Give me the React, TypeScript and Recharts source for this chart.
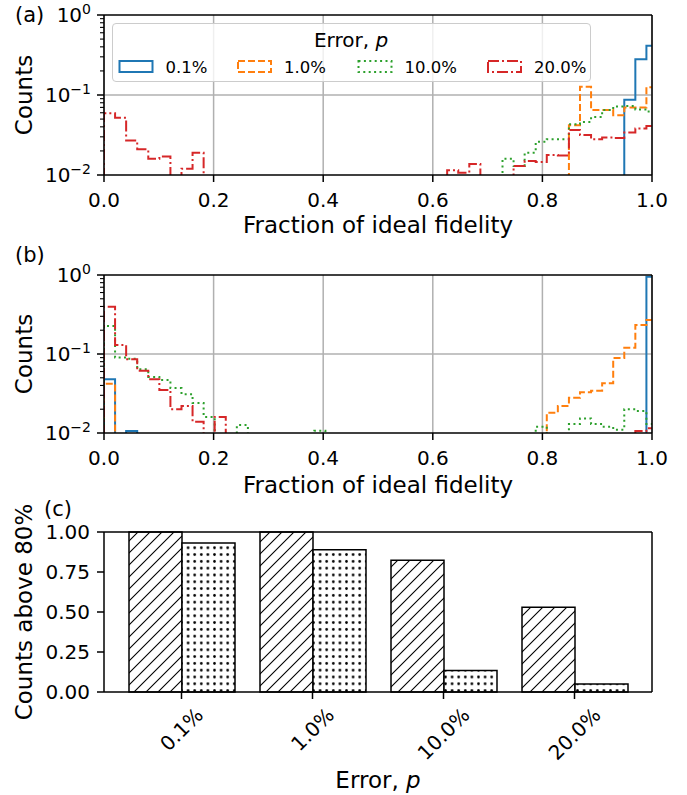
import React from 'react';
import {
  ComposedChart,
  Line,
  Bar,
  XAxis,
  YAxis,
  CartesianGrid,
  ReferenceLine,
  Legend,
} from 'recharts';

const FONT = '"DejaVu Sans", "Noto Sans", sans-serif';

const errorRates = ['0.1%', '1.0%', '10.0%', '20.0%'];
const seriesColors = ['#1f77b4', '#ff7f0e', '#2ca02c', '#d62728'];
const seriesDashes = [undefined, '7 3', '2 3.4', '11 3 2 3'];

// 50 equal bins spanning 0 .. ~1.01 (the last one runs past the axis end)
const binCount = 50;
const binWidth = 0.0202;

const fidelityTicks = [0, 0.2, 0.4, 0.6, 0.8, 1.0];
const countTicks = [0.01, 0.1, 1];
const countMinorTicks = [0.02, 0.03, 0.04, 0.05, 0.06, 0.07, 0.08, 0.09, 0.2, 0.3, 0.4, 0.5, 0.6, 0.7, 0.8, 0.9];
const aboveTicks = [0, 0.25, 0.5, 0.75, 1.0];

// panel (a) -- counts per bin, 0 = empty bin
const histA_p01 = [
  0, 0, 0, 0, 0, 0, 0, 0, 0, 0,
  0, 0, 0, 0, 0, 0, 0, 0, 0, 0,
  0, 0, 0, 0, 0, 0, 0, 0, 0, 0,
  0, 0, 0, 0, 0, 0, 0, 0, 0, 0,
  0, 0, 0, 0, 0, 0, 0, 0.087, 0.279, 0.414,
];
const histA_p1 = [
  0, 0, 0, 0, 0, 0, 0, 0, 0, 0,
  0, 0, 0, 0, 0, 0, 0, 0, 0, 0,
  0, 0, 0, 0, 0, 0, 0, 0, 0, 0,
  0, 0, 0, 0, 0, 0, 0, 0, 0, 0,
  0, 0, 0.042, 0.127, 0.065, 0.065, 0.056, 0.07, 0.07, 0.125,
];
const histA_p10 = [
  0, 0, 0, 0, 0, 0, 0, 0, 0, 0,
  0, 0, 0, 0, 0, 0, 0, 0, 0, 0,
  0, 0, 0, 0, 0, 0, 0, 0, 0, 0,
  0, 0, 0, 0, 0, 0, 0.016, 0.013, 0.019, 0.026,
  0.028, 0.028, 0.043, 0.046, 0.053, 0.065, 0.072, 0.073, 0.066, 0.062,
];
const histA_p20 = [
  0.059, 0.052, 0.027, 0.021, 0.016, 0.017, 0, 0.012, 0.019, 0,
  0, 0, 0, 0, 0, 0, 0, 0, 0, 0,
  0, 0, 0, 0, 0, 0, 0, 0, 0, 0,
  0, 0.0115, 0.0107, 0.0137, 0, 0, 0, 0.013, 0.015, 0.0145,
  0.0178, 0.0175, 0.0365, 0.0316, 0.028, 0.0295, 0.029, 0.034, 0.038, 0.041,
];

// panel (b)
const histB_p01 = [
  0.048, 0, 0.0106, 0, 0, 0, 0, 0, 0, 0,
  0, 0, 0, 0, 0, 0, 0, 0, 0, 0,
  0, 0, 0, 0, 0, 0, 0, 0, 0, 0,
  0, 0, 0, 0, 0, 0, 0, 0, 0, 0,
  0, 0, 0, 0, 0, 0, 0, 0, 0, 0.95,
];
const histB_p1 = [
  0.042, 0, 0, 0, 0, 0, 0, 0, 0, 0,
  0, 0, 0, 0, 0, 0, 0, 0, 0, 0,
  0, 0, 0, 0, 0, 0, 0, 0, 0, 0,
  0, 0, 0, 0, 0, 0, 0, 0, 0, 0,
  0.018, 0.022, 0.028, 0.0327, 0.0343, 0.0426, 0.089, 0.12, 0.233, 0.27,
];
const histB_p10 = [
  0.226, 0.09, 0.087, 0.064, 0.051, 0.047, 0.037, 0.031, 0.024, 0.016,
  0, 0, 0.0126, 0, 0, 0, 0, 0, 0, 0.0107,
  0, 0, 0, 0, 0, 0, 0, 0, 0, 0,
  0, 0, 0, 0, 0, 0, 0, 0, 0, 0.012,
  0, 0, 0.013, 0.0153, 0.013, 0.012, 0.011, 0.02, 0.019, 0.013,
];
const histB_p20 = [
  0.397, 0.13, 0.086, 0.0615, 0.048, 0.035, 0.02, 0.022, 0.0139, 0,
  0.016, 0, 0, 0, 0, 0, 0, 0, 0, 0,
  0, 0, 0, 0, 0, 0, 0, 0, 0, 0,
  0, 0, 0, 0, 0, 0, 0, 0, 0, 0,
  0, 0, 0, 0, 0, 0, 0, 0, 0.0106, 0.0115,
];

// panel (c)
const aboveA = [1.0, 1.0, 0.824, 0.53];
const aboveB = [0.931, 0.889, 0.134, 0.05];

// empty bins are sent below the 10^-2 floor and clipped, like a log histogram
const EMPTY = 0.001;

function buildHistRows(series: number[][]) {
  const row = (x: number, vals: number[]) => {
    const r: Record<string, number> = { x };
    vals.forEach((v, i) => {
      r['s' + i] = v > 0 ? v : EMPTY;
    });
    return r;
  };
  const rows = [row(0, series.map(() => 0))];
  for (let k = 0; k < binCount; k++) rows.push(row(k * binWidth, series.map((s) => s[k])));
  rows.push(row(binCount * binWidth, series.map((s) => s[binCount - 1])));
  rows.push(row(binCount * binWidth, series.map(() => 0)));
  return rows;
}

const barRows = errorRates.map((rate, i) => ({ rate, a: aboveA[i], b: aboveB[i] }));

const spine = { stroke: '#000', strokeWidth: 1.5 };

const LogYTick = ({ x, y, payload }: any) => {
  const v = payload.value;
  const exp = Math.round(Math.log10(v));
  const major = Math.abs(v - Math.pow(10, exp)) < 1e-9;
  return (
    <g>
      <line x1={x - (major ? 7 : 4)} x2={x} y1={y} y2={y} stroke="#000" strokeWidth={major ? 1.5 : 1.1} />
      {major && (
        <text x={x - 13} y={y} dy="0.36em" textAnchor="end" fontSize={20} fontFamily={FONT} fill="#000">
          10
          <tspan dy="-0.62em" fontSize={14}>
            {exp === 0 ? '0' : '\u2212' + -exp}
          </tspan>
        </text>
      )}
    </g>
  );
};

const FidelityTick = ({ x, y, payload }: any) => (
  <g>
    <line x1={x} x2={x} y1={y} y2={y + 7} stroke="#000" strokeWidth={1.5} />
    <text x={x} y={y + 32} textAnchor="middle" fontSize={20} fontFamily={FONT} fill="#000">
      {payload.value.toFixed(1)}
    </text>
  </g>
);

const AboveTick = ({ x, y, payload }: any) => (
  <g>
    <line x1={x - 7} x2={x} y1={y} y2={y} stroke="#000" strokeWidth={1.5} />
    <text x={x - 14} y={y} dy="0.36em" textAnchor="end" fontSize={20} fontFamily={FONT} fill="#000">
      {payload.value.toFixed(2)}
    </text>
  </g>
);

const charW: Record<string, number> = { '.': 0.318, '%': 0.95 };
const RateTick = ({ x, y, payload }: any) => {
  const label: string = payload.value;
  const fs = 20;
  const w = label.split('').reduce((s, c) => s + (charW[c] ?? 0.636), 0) * fs;
  const half = (w + 0.75 * fs) / (2 * Math.SQRT2);
  const cy = y + 14 + half;
  return (
    <g>
      <line x1={x} x2={x} y1={y} y2={y + 7} stroke="#000" strokeWidth={1.5} />
      <text
        x={x}
        y={cy}
        dy="0.36em"
        textAnchor="middle"
        transform={`rotate(-45 ${x} ${cy})`}
        fontSize={fs}
        fontFamily={FONT}
        fill="#000"
      >
        {label}
      </text>
    </g>
  );
};

const ErrorLabel = (props: any) => {
  const vb = props.viewBox;
  return (
    <text x={vb.x + vb.width / 2} y={vb.y + vb.height - 7} textAnchor="middle" fontSize={23} fontFamily={FONT} fill="#000">
      Error, <tspan fontStyle="italic">p</tspan>
    </text>
  );
};

const handleX = [6.5, 125, 245.5, 375];
const LegendBox = () => (
  <div
    style={{
      width: 479,
      height: 59,
      boxSizing: 'border-box',
      border: '1.2px solid #cccccc',
      borderRadius: 4,
      background: 'rgba(255,255,255,0.8)',
    }}
  >
    <svg width={477} height={57} style={{ display: 'block' }}>
      <text x={238} y={23} textAnchor="middle" fontSize={20} fontFamily={FONT} fill="#000">
        Error, <tspan fontStyle="italic">p</tspan>
      </text>
      {errorRates.map((r, i) => (
        <g key={r}>
          <rect
            x={handleX[i]}
            y={37}
            width={33}
            height={11}
            fill="none"
            stroke={seriesColors[i]}
            strokeWidth={2}
            strokeDasharray={seriesDashes[i]}
          />
          <text x={handleX[i] + 46} y={48.5} fontSize={16.5} fontFamily={FONT} fill="#000">
            {r}
          </text>
        </g>
      ))}
    </svg>
  </div>
);

function HistPanel({
  series,
  height,
  axisHeight,
  withLegend,
}: {
  series: number[][];
  height: number;
  axisHeight: number;
  withLegend?: boolean;
}) {
  const rows = buildHistRows(series);
  return (
    <ComposedChart width={687} height={height} data={rows} margin={{ top: 14, right: 34, bottom: 0, left: 0 }}>
      <CartesianGrid horizontal={false} stroke="#b0b0b0" strokeWidth={1.5} />
      <ReferenceLine y={0.1} stroke="#b0b0b0" strokeWidth={1.5} />
      <XAxis
        dataKey="x"
        type="number"
        domain={[0, 1]}
        allowDataOverflow
        ticks={fidelityTicks}
        interval={0}
        tick={<FidelityTick />}
        tickLine={false}
        tickSize={0}
        tickMargin={0}
        axisLine={spine}
        height={axisHeight}
        label={{
          value: 'Fraction of ideal fidelity',
          position: 'insideBottom',
          offset: 17,
          fontSize: 23,
          fill: '#000',
          fontFamily: FONT,
        }}
      />
      <XAxis
        xAxisId="frame"
        orientation="top"
        dataKey="x"
        type="number"
        domain={[0, 1]}
        allowDataOverflow
        height={1}
        tick={false}
        tickLine={false}
        axisLine={spine}
      />
      <YAxis
        type="number"
        scale="log"
        domain={[0.01, 1]}
        allowDataOverflow
        ticks={[...countTicks, ...countMinorTicks]}
        interval={0}
        tick={<LogYTick />}
        tickLine={false}
        tickSize={0}
        tickMargin={0}
        axisLine={spine}
        width={104}
        label={{
          value: 'Counts',
          angle: -90,
          position: 'insideLeft',
          offset: 24,
          style: { textAnchor: 'middle' },
          fontSize: 23,
          fill: '#000',
          fontFamily: FONT,
        }}
      />
      <YAxis
        yAxisId="frame"
        orientation="right"
        type="number"
        domain={[0, 1]}
        width={1}
        tick={false}
        tickLine={false}
        axisLine={spine}
      />
      {series.map((_, i) => (
        <Line
          key={i}
          type="stepAfter"
          dataKey={'s' + i}
          stroke={seriesColors[i]}
          strokeWidth={2}
          strokeDasharray={seriesDashes[i]}
          dot={false}
          activeDot={false}
          isAnimationActive={false}
        />
      ))}
      {withLegend && (
        <Legend
          layout="horizontal"
          verticalAlign="middle"
          align="center"
          wrapperStyle={{ left: 112, top: 23, width: 479, height: 59 }}
          content={() => <LegendBox />}
        />
      )}
    </ComposedChart>
  );
}

function AbovePanel() {
  return (
    <ComposedChart
      width={687}
      height={305}
      data={barRows}
      margin={{ top: 41, right: 34, bottom: 0, left: 0 }}
      barCategoryGap={13}
      barGap={0}
    >
      <defs>
        <pattern id="hatchSlash" patternUnits="userSpaceOnUse" width={12} height={12}>
          <rect width={12} height={12} fill="#fff" />
          <path d="M0,12 L12,0 M-2,2 L2,-2 M10,14 L14,10" stroke="#000" strokeWidth={1.1} />
        </pattern>
        <pattern id="hatchDots" patternUnits="userSpaceOnUse" width={6.6} height={6.8}>
          <rect width={6.6} height={6.8} fill="#fff" />
          <circle cx={3.3} cy={3.4} r={1.35} fill="#000" />
        </pattern>
      </defs>
      <XAxis
        dataKey="rate"
        type="category"
        padding={{ left: 12, right: 12 }}
        interval={0}
        tick={<RateTick />}
        tickLine={false}
        tickSize={0}
        tickMargin={0}
        axisLine={spine}
        height={103}
        label={(p: any) => <ErrorLabel {...p} />}
      />
      <XAxis
        xAxisId="frame"
        orientation="top"
        dataKey="rate"
        type="category"
        height={1}
        tick={false}
        tickLine={false}
        axisLine={spine}
      />
      <YAxis
        type="number"
        domain={[0, 1]}
        ticks={aboveTicks}
        interval={0}
        tick={<AboveTick />}
        tickLine={false}
        tickSize={0}
        tickMargin={0}
        axisLine={spine}
        width={104}
        label={{
          value: 'Counts above 80%',
          angle: -90,
          position: 'insideLeft',
          offset: 24,
          style: { textAnchor: 'middle' },
          fontSize: 23,
          fill: '#000',
          fontFamily: FONT,
        }}
      />
      <YAxis
        yAxisId="frame"
        orientation="right"
        type="number"
        domain={[0, 1]}
        width={1}
        tick={false}
        tickLine={false}
        axisLine={spine}
      />
      <Bar dataKey="a" fill="url(#hatchSlash)" stroke="#000" strokeWidth={1.5} isAnimationActive={false} />
      <Bar dataKey="b" fill="url(#hatchDots)" stroke="#000" strokeWidth={1.5} isAnimationActive={false} />
    </ComposedChart>
  );
}

export default function App() {
  return (
    <div style={{ position: 'absolute', left: 0, top: 0, width: 687, height: 795, background: '#fff', fontFamily: FONT }}>
      <div style={{ position: 'absolute', left: 0, top: 0 }}>
        <HistPanel series={[histA_p01, histA_p1, histA_p10, histA_p20]} height={250} axisHeight={75} withLegend />
      </div>
      <div style={{ position: 'absolute', left: 0, top: 260 }}>
        <HistPanel series={[histB_p01, histB_p1, histB_p10, histB_p20]} height={250} axisHeight={77} />
      </div>
      <div style={{ position: 'absolute', left: 0, top: 490 }}>
        <AbovePanel />
      </div>
      <svg width={687} height={795} style={{ position: 'absolute', left: 0, top: 0, pointerEvents: 'none' }}>
        <text x={15} y={22} fontSize={21} fontFamily={FONT} fill="#000">(a)</text>
        <text x={15} y={262} fontSize={21} fontFamily={FONT} fill="#000">(b)</text>
        <text x={44} y={516} fontSize={21} fontFamily={FONT} fill="#000">(c)</text>
      </svg>
    </div>
  );
}
